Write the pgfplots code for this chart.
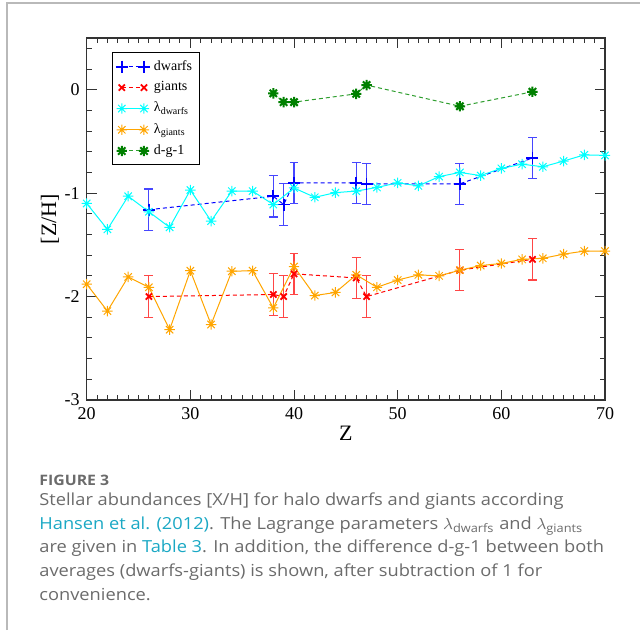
\documentclass[border=0pt]{standalone}
\usepackage{pgfplots}
\pgfplotsset{compat=1.18}
\usepackage{fontspec}
\setmainfont{Liberation Serif}
\newfontfamily\capfont[FakeStretch=1.1]{Open Sans}
\usetikzlibrary{plotmarks}
\definecolor{capgray}{HTML}{6B6B6B}
\definecolor{linkteal}{HTML}{1AA8C4}
\definecolor{dgreen}{HTML}{008000}
\definecolor{lgreen}{HTML}{2E9E2E}
\definecolor{lorange}{HTML}{FFA500}
\definecolor{aqua}{HTML}{00FFFF}
\definecolor{pblue}{HTML}{0000FF}
\definecolor{pred}{HTML}{FF0000}
\definecolor{ebblue}{HTML}{4646FF}
\definecolor{ebred}{HTML}{FF4646}
\pgfdeclareplotmark{star8}{%
  \pgfpathmoveto{\pgfqpoint{-\pgfplotmarksize}{0pt}}\pgfpathlineto{\pgfqpoint{\pgfplotmarksize}{0pt}}%
  \pgfpathmoveto{\pgfqpoint{0pt}{-\pgfplotmarksize}}\pgfpathlineto{\pgfqpoint{0pt}{\pgfplotmarksize}}%
  \pgfpathmoveto{\pgfqpoint{-0.707\pgfplotmarksize}{-0.707\pgfplotmarksize}}\pgfpathlineto{\pgfqpoint{0.707\pgfplotmarksize}{0.707\pgfplotmarksize}}%
  \pgfpathmoveto{\pgfqpoint{-0.707\pgfplotmarksize}{0.707\pgfplotmarksize}}\pgfpathlineto{\pgfqpoint{0.707\pgfplotmarksize}{-0.707\pgfplotmarksize}}%
  \pgfusepathqstroke}
\begin{document}
\begin{tikzpicture}
\path[use as bounding box] (0pt,0pt) rectangle (320pt,-315pt);
\draw[gray!55, line width=0.8pt] (3.5pt,-315pt) -- (3.5pt,-1.5pt) -- (320pt,-1.5pt);
\begin{axis}[
  scale only axis, width=259.15pt, height=181pt,
  at={(43.35pt,-200pt)}, anchor=south west,
  xmin=20, xmax=70, ymin=-3, ymax=0.5,
  xtick={20,30,40,50,60,70}, xticklabels={20,30,40,50,60,70},
  ytick={-3,-2,-1,0}, yticklabels={-3,-2,-1,0},
  minor xtick={21,...,69}, minor ytick={-2.8,-2.6,...,0.41},
  tick align=inside, major tick length=5pt, minor tick length=2.5pt,
  axis line style={black!80, line width=0.6pt},
  every tick/.style={black!80, line width=0.5pt},
  tick label style={font=\fontsize{9}{10}\selectfont},
  xlabel={Z}, ylabel={[Z/H]},
  label style={font=\fontsize{11}{12}\selectfont},
  xlabel style={at={(axis description cs:0.5,-0.0912)}, anchor=center},
  ylabel style={at={(axis description cs:-0.0708,0.5)}, anchor=center},
  legend style={at={(rel axis cs:0.049,0.96)}, anchor=north west,
    font=\fontsize{7}{8}\selectfont, draw=black, line width=0.5pt,
    inner sep=1.6pt, row sep=0.2pt, cells={anchor=west}},
  legend image code/.code={\draw[#1] plot coordinates {(0cm,0cm) (0.39cm,0cm)};},
  clip=false,
]
\addplot[pblue, line width=0.5pt, dash pattern=on 2pt off 1.5pt, mark=+, mark size=3pt,
  mark options={solid, line width=0.9pt},
  error bars/.cd, y dir=both, y explicit,
  error bar style={solid, color=ebblue, line width=0.6pt},
  error mark options={rotate=90, mark size=2.2pt, color=ebblue, line width=0.6pt}]
coordinates {
(26,-1.16) +- (0,0.2)
(38,-1.03) +- (0,0.2)
(39,-1.11) +- (0,0.2)
(40,-0.90) +- (0,0.2)
(46,-0.90) +- (0,0.2)
(47,-0.91) +- (0,0.2)
(56,-0.91) +- (0,0.2)
(63,-0.66) +- (0,0.2)
};
\addlegendentry{dwarfs}
\addplot[pred, line width=0.5pt, dash pattern=on 2pt off 1.5pt, mark=x, mark size=2.2pt,
  mark options={solid, line width=0.9pt},
  error bars/.cd, y dir=both, y explicit,
  error bar style={solid, color=ebred, line width=0.6pt},
  error mark options={rotate=90, mark size=2.2pt, color=ebred, line width=0.6pt}]
coordinates {
(26,-2.00) +- (0,0.2)
(38,-1.98) +- (0,0.2)
(39,-2.00) +- (0,0.2)
(40,-1.78) +- (0,0.2)
(46,-1.82) +- (0,0.2)
(47,-2.00) +- (0,0.2)
(56,-1.745) +- (0,0.2)
(63,-1.64) +- (0,0.2)
};
\addlegendentry{giants}
\addplot[aqua, line width=0.5pt, mark=star8, mark size=2.6pt, mark options={solid, line width=0.5pt}]
coordinates {
(20,-1.10) (22,-1.35) (24,-1.03) (26,-1.18) (28,-1.33) (30,-0.97) (32,-1.27)
(34,-0.98) (36,-0.98) (38,-1.11) (40,-0.95) (42,-1.04) (44,-0.995) (46,-0.98)
(48,-0.945) (50,-0.90) (52,-0.93) (54,-0.84) (56,-0.80) (58,-0.83) (60,-0.76)
(62,-0.72) (64,-0.745) (66,-0.69) (68,-0.63) (70,-0.635)
};
\addlegendentry{λ\textsubscript{dwarfs}}
\addplot[lorange, line width=0.5pt, mark=star8, mark size=2.6pt, mark options={solid, line width=0.5pt}]
coordinates {
(20,-1.88) (22,-2.14) (24,-1.81) (26,-1.91) (28,-2.32) (30,-1.75) (32,-2.27)
(34,-1.755) (36,-1.75) (38,-2.11) (40,-1.71) (42,-1.99) (44,-1.96) (46,-1.79)
(48,-1.91) (50,-1.84) (52,-1.79) (54,-1.80) (56,-1.745) (58,-1.70) (60,-1.68)
(62,-1.64) (64,-1.63) (66,-1.59) (68,-1.56) (70,-1.56)
};
\addlegendentry{λ\textsubscript{giants}}
\addplot[lgreen, line width=0.5pt, dash pattern=on 2pt off 1.5pt, mark=star8, mark size=2.6pt,
  mark options={solid, line width=1pt, dgreen}]
coordinates {
(38,-0.035) (39,-0.12) (40,-0.12) (46,-0.04) (47,0.045) (56,-0.16) (63,-0.02)
};
\addlegendentry{d-g-1}
\end{axis}
\node[anchor=base west, inner sep=0pt, text=capgray, font=\capfont\bfseries\fontsize{7.2}{8}\selectfont] at (19.5pt,-242.5pt) {FIGURE 3};
\begin{scope}[every node/.style={anchor=base west, inner sep=0pt, text=capgray, font=\capfont\fontsize{8.3}{10}\selectfont}]
\node at (19.5pt,-252.5pt) {Stellar abundances [X/H] for halo dwarfs and giants according};
\node at (19.5pt,-264.5pt) {\textcolor{linkteal}{Hansen et al. (2012)}. The Lagrange parameters $\lambda$\textsubscript{dwarfs} and $\lambda$\textsubscript{giants}};
\node at (19.5pt,-276.25pt) {are given in \textcolor{linkteal}{Table 3}. In addition, the difference d-g-1 between both};
\node at (19.5pt,-288pt) {averages (dwarfs-giants) is shown, after subtraction of 1 for};
\node at (19.5pt,-300pt) {convenience.};
\end{scope}
\end{tikzpicture}
\end{document}
